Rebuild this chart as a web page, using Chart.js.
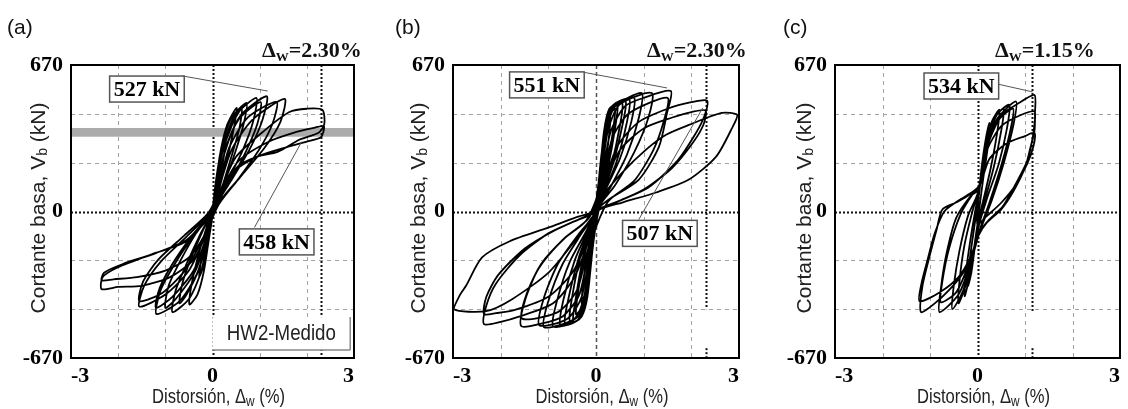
<!DOCTYPE html>
<html>
<head>
<meta charset="utf-8">
<script src="https://cdn.jsdelivr.net/npm/chart.js@4.4.0/dist/chart.umd.min.js"></script>
<style>
  body { margin: 0; background: #fff; }
  #wrap { position: relative; width: 1128px; height: 409px; overflow: hidden; }
  canvas { position: absolute; top: 0; }
</style>
</head>
<body>
<div id="wrap">
  <canvas id="chartA" width="376" height="409" style="left:0"></canvas>
  <canvas id="chartB" width="376" height="409" style="left:376px"></canvas>
  <canvas id="chartC" width="376" height="409" style="left:752px"></canvas>
</div>
<script>
const X_TICKS = [-3, -2, -1, 0, 1, 2, 3];
const X_LABELS = ["-3", "", "", "0", "", "", "3"];
const Y_TICKS = [-670, -446.67, -223.33, 0, 223.33, 446.67, 670];
const Y_LABELS = ["-670", "", "", "0", "", "", "670"];

// drift (%), base shear (kN)
const loopsA = [
  [0,0],[0.06,120],[0.15,240],[0.28,320],[0.24,250],[0.14,130],[0.04,30],
  [-0.05,-90],[-0.15,-220],[-0.28,-300],[-0.24,-220],[-0.13,-110],[-0.02,-10],
  [0.05,80],[0.15,250],[0.3,390],[0.51,474],[0.46,390],[0.32,250],[0.15,110],[0.03,20],
  [-0.06,-100],[-0.18,-270],[-0.32,-380],[-0.49,-425],[-0.44,-330],[-0.3,-200],[-0.12,-70],[0,0],
  [0.07,90],[0.2,260],[0.42,400],[0.62,470],[0.57,380],[0.4,250],[0.2,110],[0.05,25],
  [-0.08,-100],[-0.28,-260],[-0.55,-380],[-0.7,-420],[-0.64,-330],[-0.45,-210],[-0.2,-85],[-0.02,-5],
  [0.06,90],[0.18,270],[0.38,420],[0.72,497],[0.66,400],[0.48,270],[0.25,130],[0.06,30],
  [-0.08,-110],[-0.25,-280],[-0.5,-400],[-0.85,-460],[-0.78,-360],[-0.55,-240],[-0.25,-100],[-0.02,-5],
  [0.08,100],[0.22,280],[0.45,430],[0.93,520],[0.86,410],[0.64,280],[0.32,140],[0.08,35],
  [-0.1,-110],[-0.32,-280],[-0.7,-410],[-1.19,-469],[-1.1,-360],[-0.8,-240],[-0.4,-110],[-0.05,-10],
  [0.09,95],[0.26,270],[0.55,420],[1.02,500],[0.95,400],[0.7,270],[0.36,130],[0.08,30],
  [-0.11,-105],[-0.36,-270],[-0.78,-400],[-1.0,-440],[-0.93,-340],[-0.68,-225],[-0.35,-100],[-0.04,-8],
  [0.1,100],[0.28,290],[0.6,440],[1.15,527],[1.06,420],[0.8,290],[0.42,150],[0.1,40],
  [-0.12,-110],[-0.4,-270],[-0.85,-390],[-1.2,-440],[-1.12,-350],[-0.85,-240],[-0.45,-115],[-0.06,-10],
  [0.12,100],[0.35,290],[0.75,430],[1.36,501],[1.27,400],[0.98,280],[0.55,150],[0.12,35],
  [-0.15,-110],[-0.5,-270],[-1.0,-380],[-1.55,-435],[-1.45,-340],[-1.1,-230],[-0.55,-115],[-0.08,-10],
  [0.12,95],[0.4,280],[0.85,420],[1.53,515],[1.44,410],[1.1,290],[0.6,160],[0.14,35],
  [-0.15,-100],[-0.55,-260],[-1.05,-370],[-1.55,-410],[-1.47,-320],[-1.15,-220],[-0.6,-110],[-0.1,-10],
  [0.15,90],[0.5,250],[1.1,370],[1.63,455],[2.0,470],[2.33,465],[2.37,400],[2.25,360],[1.84,328],[1.38,273],[0.93,250],[0.51,200],[0.15,50],
  [-0.15,-110],[-0.4,-220],[-0.9,-300],[-1.5,-340],[-2.0,-345],[-2.35,-355],[-2.33,-300],[-2.0,-255],[-1.29,-196],[-0.59,-141],[-0.2,-60],[0,0],
  [0.15,80],[0.55,230],[1.2,320],[1.8,365],[2.1,380],[2.36,390],[2.3,340],[2.0,320],[1.5,290],[1.0,255],[0.5,190],[0.12,40],
  [-0.15,-100],[-0.5,-210],[-1.0,-270],[-1.6,-300],[-2.1,-310],[-2.35,-315],[-2.3,-280],[-1.9,-240],[-1.2,-190],[-0.55,-130],[-0.15,-40],[0,0]
];

const loopsB = [
  [0,0],[0.05,120],[0.12,270],[0.2,350],[0.17,250],[0.1,120],[0.03,20],
  [-0.05,-110],[-0.12,-260],[-0.2,-340],[-0.17,-240],[-0.1,-110],[-0.02,-10],
  [0.06,130],[0.15,320],[0.3,430],[0.26,320],[0.16,160],[0.05,30],
  [-0.06,-130],[-0.16,-310],[-0.3,-420],[-0.26,-310],[-0.15,-150],[-0.04,-20],
  [0.06,140],[0.16,340],[0.28,440],[0.4,470],[0.35,360],[0.22,190],[0.06,35],
  [-0.07,-150],[-0.18,-350],[-0.3,-440],[-0.42,-470],[-0.37,-360],[-0.22,-180],[-0.05,-25],
  [0.07,160],[0.17,370],[0.28,470],[0.45,490],[0.4,380],[0.25,200],[0.06,30],
  [-0.07,-170],[-0.18,-390],[-0.3,-480],[-0.48,-505],[-0.42,-390],[-0.26,-200],[-0.05,-25],
  [0.07,150],[0.18,360],[0.3,460],[0.55,495],[0.5,390],[0.32,210],[0.08,40],
  [-0.08,-160],[-0.2,-370],[-0.33,-470],[-0.55,-500],[-0.5,-390],[-0.32,-200],[-0.06,-30],
  [0.08,170],[0.2,390],[0.33,480],[0.62,505],[0.56,400],[0.36,220],[0.07,35],
  [-0.08,-180],[-0.2,-400],[-0.34,-490],[-0.65,-515],[-0.58,-400],[-0.36,-210],[-0.06,-30],
  [0.08,150],[0.2,370],[0.34,470],[0.7,510],[0.64,400],[0.42,220],[0.1,45],
  [-0.08,-160],[-0.22,-380],[-0.38,-480],[-0.75,-520],[-0.68,-400],[-0.44,-220],[-0.08,-35],
  [0.09,170],[0.22,400],[0.38,490],[0.8,520],[0.74,410],[0.5,240],[0.09,40],
  [-0.09,-180],[-0.24,-410],[-0.4,-500],[-0.9,-525],[-0.82,-410],[-0.55,-230],[-0.07,-30],
  [0.08,140],[0.22,370],[0.4,480],[0.96,542],[0.9,430],[0.65,260],[0.3,110],[0.05,20],
  [-0.1,-170],[-0.25,-390],[-0.45,-490],[-1.09,-529],[-1.0,-410],[-0.7,-240],[-0.3,-100],[-0.04,-15],
  [0.1,140],[0.25,370],[0.5,490],[1.17,542],[1.1,430],[0.8,270],[0.4,120],[0.06,20],
  [-0.12,-170],[-0.3,-390],[-0.6,-490],[-1.19,-520],[-1.1,-400],[-0.8,-240],[-0.35,-100],[-0.05,-15],
  [0.12,140],[0.3,360],[0.6,480],[1.0,520],[1.57,551],[1.49,451],[1.32,296],[0.9,146],[0.27,55],[0.02,5],
  [-0.15,-170],[-0.35,-380],[-0.7,-480],[-1.1,-510],[-1.57,-524],[-1.48,-400],[-1.2,-260],[-0.7,-130],[-0.2,-40],
  [0.12,130],[0.35,340],[0.7,450],[1.5,520],[1.43,420],[1.2,280],[0.8,140],[0.25,45],
  [-0.15,-160],[-0.4,-360],[-0.8,-460],[-1.55,-490],[-1.46,-380],[-1.15,-240],[-0.65,-120],[-0.15,-30],
  [0.15,120],[0.45,300],[0.9,410],[1.5,470],[2.0,500],[2.33,507],[2.28,440],[2.1,360],[1.7,230],[1.1,110],[0.5,50],[0.05,5],
  [-0.15,-130],[-0.45,-300],[-0.9,-420],[-1.6,-480],[-2.0,-505],[-2.35,-515],[-2.3,-430],[-2.1,-330],[-1.6,-200],[-1.0,-100],[-0.4,-40],[0,0],
  [0.15,110],[0.5,280],[1.0,380],[1.6,430],[2.0,455],[2.3,462],[2.26,400],[2.05,320],[1.6,200],[1.0,100],[0.4,40],[0.03,5],
  [-0.15,-120],[-0.5,-280],[-1.0,-390],[-1.7,-450],[-2.1,-465],[-2.35,-469],[-2.3,-390],[-2.05,-290],[-1.5,-170],[-0.9,-90],[-0.3,-30],[0,0],
  [0.13,68],[0.55,178],[1.05,283],[1.47,351],[1.95,396],[2.64,451],[2.96,442],[2.85,380],[2.52,251],[1.95,146],[1.26,87],[0.55,41],[0.05,5],
  [-0.42,-128],[-0.99,-278],[-1.76,-401],[-2.31,-456],[-2.98,-447],[-2.85,-380],[-2.73,-341],[-2.39,-210],[-1.82,-137],[-0.99,-73],[-0.42,-27],[0,0]
];

const loopsC = [
  [0,0],[0.06,150],[0.15,300],[0.25,405],[0.22,300],[0.12,150],[0.03,0],
  [-0.05,-150],[-0.13,-280],[-0.2,-340],[-0.18,-250],[-0.1,-120],[-0.02,0],
  [0.05,110],[0.15,280],[0.3,410],[0.46,465],[0.42,370],[0.28,200],[0.12,50],
  [0,-60],[-0.1,-210],[-0.2,-330],[-0.27,-387],[-0.25,-290],[-0.15,-130],[-0.05,0],
  [0.06,130],[0.2,320],[0.36,430],[0.55,470],[0.5,370],[0.34,200],[0.14,40],
  [0,-80],[-0.12,-220],[-0.25,-340],[-0.4,-420],[-0.38,-320],[-0.28,-160],[-0.12,-10],
  [0.05,120],[0.18,300],[0.4,440],[0.67,488],[0.62,380],[0.45,220],[0.2,60],
  [0.02,-70],[-0.1,-200],[-0.3,-360],[-0.53,-447],[-0.5,-340],[-0.38,-180],[-0.2,-20],[0,80],
  [0.15,260],[0.4,420],[0.81,503],[0.76,400],[0.55,220],[0.3,50],
  [0.05,-90],[-0.15,-240],[-0.4,-380],[-0.8,-460],[-0.77,-350],[-0.65,-190],[-0.45,-30],[-0.15,70],[0.02,100],
  [0.18,280],[0.45,420],[0.75,470],[0.7,380],[0.5,210],[0.25,40],
  [0.02,-100],[-0.2,-250],[-0.45,-370],[-0.77,-415],[-0.74,-320],[-0.6,-170],[-0.35,-10],[-0.1,80],[0.04,114],
  [0.19,296],[0.46,433],[0.88,497],[1.2,533],[1.21,450],[1.2,370],[1.1,280],[1.03,223],[0.74,100],[0.53,23],[0.25,-36],[0.04,-96],
  [-0.1,-190],[-0.3,-280],[-0.6,-360],[-0.9,-420],[-1.19,-460],[-1.16,-342],[-1.01,-205],[-0.86,-82],[-0.74,9],[-0.45,41],[-0.23,68],[0.05,120],
  [0.2,280],[0.5,390],[0.9,440],[1.2,457],[1.2,400],[1.13,300],[1.0,200],[0.75,90],[0.5,10],[0.2,-50],[0.02,-110],
  [-0.15,-210],[-0.4,-300],[-0.8,-370],[-1.22,-410],[-1.18,-330],[-1.05,-220],[-0.9,-100],[-0.7,0],[-0.4,50],[-0.1,90],[0.05,120],
  [0.25,240],[0.6,310],[1.0,345],[1.2,360],[1.18,300],[1.05,220],[0.8,120],[0.5,40],[0.2,-20],[0,-60],[0,0]
];

// boxed peak labels: box centre, leader start, leader end (data units)
const notesA = [
  { text: "527 kN", cx: -1.39, cy: 560, x1: -0.64, y1: 620, x2: 1.17, y2: 551 },
  { text: "458 kN", cx: 1.36, cy: -139, x1: 0.89, y1: -73, x2: 1.89, y2: 319 },
];
const notesB = [
  { text: "551 kN", cx: -1.03, cy: 579, x1: -0.29, y1: 638, x2: 1.49, y2: 565 },
  { text: "507 kN", cx: 1.34, cy: -100, x1: 0.9, y1: -36, x2: 2.24, y2: 474 },
];
const notesC = [
  { text: "534 kN", cx: -0.34, cy: 574, x1: 0.42, y1: 583, x2: 1.16, y2: 547 },
];

const SERIF = "'Liberation Serif', 'Times New Roman', serif";
const SANS = "'Liberation Sans', Arial, sans-serif";

const GRID = { color: "#a3a3a3", width: 1, dash: [4, 4] };
const ZERO = { color: "#111", width: 2, dash: [2, 2] };
const ZERO_B = { color: "#555", width: 1.5, dash: [4, 3] };

const PANELS = [
  { id: "chartA", tag: "(a)", tagX: 7, loops: loopsA, notes: notesA, yWidth: 71, padRight: 22,
    drift: "2.30%", driftX: 262, limit: 2.3, limitEnd: -670, stub: false, yTitleX: 45,
    band: [342, 382], medido: true },
  { id: "chartB", tag: "(b)", tagX: 19, loops: loopsB, notes: notesB, yWidth: 77, padRight: 13,
    drift: "2.30%", driftX: 271, limit: 2.3, limitEnd: -447, stub: true, yTitleX: 49,
    zeroX: ZERO_B },
  { id: "chartC", tag: "(c)", tagX: 31, loops: loopsC, notes: notesC, yWidth: 83, padRight: 8,
    drift: "1.15%", driftX: 243, limit: 1.15, limitEnd: -460, stub: true, yTitleX: 59 },
];

function stroke(ctx, x1, y1, x2, y2, st) {
  ctx.beginPath();
  ctx.strokeStyle = st.color;
  ctx.lineWidth = st.width;
  ctx.setLineDash(st.dash || []);
  ctx.moveTo(x1, y1);
  ctx.lineTo(x2, y2);
  ctx.stroke();
}

// text with subscripts: parts = [[text, font, dy]], sx squeezes horizontally
function runs(ctx, parts, x, y, align, sx = 1) {
  let w = 0;
  parts.forEach((r) => { ctx.font = r[1]; w += ctx.measureText(r[0]).width * sx; });
  let cx = align === "center" ? x - w / 2 : x;
  parts.forEach((r) => {
    ctx.font = r[1];
    ctx.save();
    ctx.translate(cx, y + (r[2] || 0));
    ctx.scale(sx, 1);
    ctx.fillText(r[0], 0, 0);
    ctx.restore();
    cx += ctx.measureText(r[0]).width * sx;
  });
}

function decor(p) {
  return {
    id: "decor",
    beforeDatasetsDraw(chart) {
      const { ctx, chartArea: a, scales: { x, y } } = chart;
      ctx.save();
      X_TICKS.slice(1, -1).forEach((v) => {
        const px = Math.round(x.getPixelForValue(v)) + 0.5;
        stroke(ctx, px, a.top, px, a.bottom, v === 0 ? (p.zeroX || ZERO) : GRID);
      });
      Y_TICKS.slice(1, -1).forEach((v) => {
        const py = Math.round(y.getPixelForValue(v)) + 0.5;
        stroke(ctx, a.left, py, a.right, py, v === 0 ? ZERO : GRID);
      });
      if (p.band) {
        const t = y.getPixelForValue(p.band[1]);
        const b = y.getPixelForValue(p.band[0]);
        ctx.fillStyle = "#ababab";
        ctx.fillRect(a.left, t, a.right - a.left, b - t);
      }
      const lx = Math.round(x.getPixelForValue(p.limit)) + 0.5;
      stroke(ctx, lx, a.top, lx, y.getPixelForValue(p.limitEnd), ZERO);
      if (p.stub) stroke(ctx, lx, y.getPixelForValue(-625), lx, a.bottom, ZERO);

      // legend box (white) sits over the grid
      if (p.medido) {
        const l = x.getPixelForValue(0);
        const r = x.getPixelForValue(2.92);
        const t = y.getPixelForValue(-483);
        const b = y.getPixelForValue(-633);
        ctx.fillStyle = "#fff";
        ctx.fillRect(l, t, r - l, b - t);
        stroke(ctx, l, b, r, b, { color: "#888", width: 1.5 });
        stroke(ctx, r, t, r, b, { color: "#888", width: 1.5 });
        ctx.fillStyle = "#222";
        runs(ctx, [["HW2-Medido", "22px " + SANS]], x.getPixelForValue(1.46), y.getPixelForValue(-551) + 8, "center", 0.85);
      }
      ctx.restore();
    },
    afterDraw(chart) {
      const { ctx, chartArea: a, scales: { x, y } } = chart;
      ctx.save();
      ctx.setLineDash([]);
      ctx.strokeStyle = "#000";
      ctx.lineWidth = 2;
      ctx.strokeRect(a.left, a.top, a.right - a.left, a.bottom - a.top);

      ctx.fillStyle = "#000";
      ctx.textBaseline = "middle";
      ctx.textAlign = "center";
      p.notes.forEach((n) => {
        stroke(ctx, x.getPixelForValue(n.x1), y.getPixelForValue(n.y1),
          x.getPixelForValue(n.x2), y.getPixelForValue(n.y2), { color: "#555", width: 1 });
        ctx.font = "bold 22px " + SERIF;
        const w = ctx.measureText(n.text).width + 8;
        const cx = x.getPixelForValue(n.cx);
        const cy = y.getPixelForValue(n.cy);
        ctx.fillStyle = "#fff";
        ctx.fillRect(cx - w / 2, cy - 13, w, 26);
        ctx.strokeStyle = "#555";
        ctx.lineWidth = 1.5;
        ctx.setLineDash([]);
        ctx.strokeRect(cx - w / 2, cy - 13, w, 26);
        ctx.fillStyle = "#000";
        ctx.fillText(n.text, cx, cy + 1);
      });

      ctx.textAlign = "left";
      ctx.textBaseline = "alphabetic";
      ctx.fillStyle = "#111";
      ctx.font = "21px " + SANS;
      ctx.fillText(p.tag, p.tagX, 34);

      const big = "bold 22px " + SERIF;
      runs(ctx, [["\u0394", big], ["W", "bold 13px " + SERIF, 4], ["=" + p.drift, big]], p.driftX, 57);

      const lab = "21px " + SANS;
      ctx.fillStyle = "#222";
      runs(ctx, [["Distorsi\u00f3n, \u0394", lab], ["w", "15px " + SANS, 3], [" (%)", lab]],
        (a.left + a.right) / 2 + 6, 403, "center", 0.79);

      ctx.save();
      ctx.translate(p.yTitleX, 208);
      ctx.rotate(-Math.PI / 2);
      const yl = "21px " + SANS;
      runs(ctx, [["Cortante basa, V", yl], ["b", "14px " + SANS, 2], [" (kN)", yl]], 0, 0, "center");
      ctx.restore();
      ctx.restore();
    },
  };
}

function buildChart(p) {
  return new Chart(document.getElementById(p.id), {
    type: "scatter",
    data: {
      datasets: [{
        data: p.loops.map(([dx, v]) => ({ x: dx, y: v })),
        showLine: true,
        borderColor: "#000",
        borderWidth: 1.8,
        pointRadius: 0,
        tension: 0.25,
      }],
    },
    options: {
      responsive: false,
      animation: false,
      events: [],
      layout: { padding: { top: 65, right: p.padRight, left: 0, bottom: 0 } },
      plugins: { legend: { display: false }, tooltip: { enabled: false } },
      scales: {
        x: {
          type: "linear",
          min: -3,
          max: 3,
          afterBuildTicks: (s) => { s.ticks = X_TICKS.map((v) => ({ value: v })); },
          afterFit: (s) => { s.height = 51; },
          grid: { display: false, drawTicks: false },
          border: { display: false },
          ticks: {
            autoSkip: false, maxRotation: 0, align: "inner", padding: 5, color: "#000",
            font: { family: SERIF, weight: "bold", size: 22 },
            callback: (v, i) => X_LABELS[i],
          },
        },
        y: {
          type: "linear",
          min: -670,
          max: 670,
          afterBuildTicks: (s) => { s.ticks = Y_TICKS.map((v) => ({ value: v })); },
          afterFit: (s) => { s.width = p.yWidth; },
          grid: { display: false, drawTicks: false },
          border: { display: false },
          ticks: {
            autoSkip: false, padding: 8, color: "#000",
            font: { family: SERIF, weight: "bold", size: 22 },
            callback: (v, i) => Y_LABELS[i],
          },
        },
      },
    },
    plugins: [decor(p)],
  });
}

PANELS.forEach(buildChart);
</script>
</body>
</html>
